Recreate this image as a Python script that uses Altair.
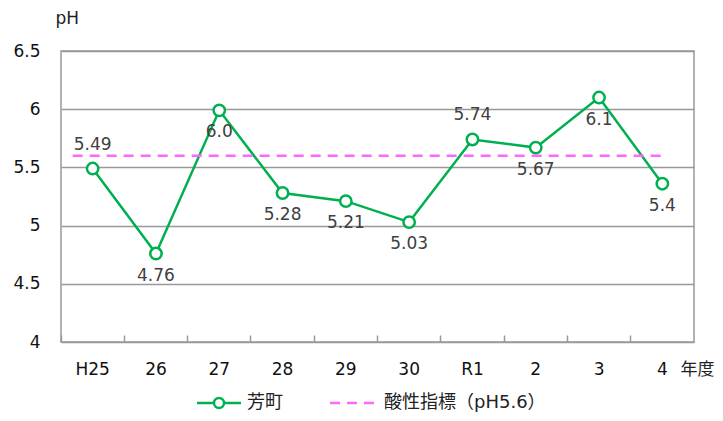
import altair as alt
import pandas as pd

years = ["H25", "26", "27", "28", "29", "30", "R1", "2", "3", "4"]
ph_values = [5.49, 4.76, 5.99, 5.28, 5.21, 5.03, 5.74, 5.67, 6.10, 5.36]
ph_labels = ["5.49", "4.76", "6.0", "5.28", "5.21", "5.03", "5.74", "5.67", "6.1", "5.4"]
labels_above = ["H25", "R1"]
acid_index = 5.6
series_name = "芳町"
ref_name = "酸性指標（pH5.6）"

df = pd.DataFrame({"year": years, "ph": ph_values, "label": ph_labels})
df["above"] = df["year"].isin(labels_above)
ref_df = pd.DataFrame({"start": [years[0]], "end": [years[-1]], "ph": [acid_index]})

FONT = "DejaVu Sans, Noto Sans CJK JP"
GREEN = "#00B050"
MAGENTA = "#FF66FF"
GRID = "#999999"

W, H = 633, 291

x_scale = alt.Scale(domain=years, paddingInner=0, paddingOuter=0)
y_scale = alt.Scale(domain=[4, 6.5], nice=False, zero=False)

x_enc = alt.X(
    "year:N", scale=x_scale, sort=years,
    axis=alt.Axis(
        title="年度", titleFont=FONT, titleFontSize=17, titleFontWeight="normal",
        titleColor="#222222", titleAngle=0, titleAlign="left", titleBaseline="middle",
        titleX=619, titleY=34,
        labelFont=FONT, labelFontSize=17, labelColor="#111111", labelAngle=0,
        labelPadding=19, labelBaseline="top",
        domain=False, offset=-7, tickSize=7, tickColor=GRID, tickWidth=1.5,
        bandPosition=0, grid=False,
    ),
)
y_enc = alt.Y(
    "ph:Q", scale=y_scale,
    axis=alt.Axis(
        values=[4, 4.5, 5, 5.5, 6, 6.5], labelExpr="datum.value",
        title="pH", titleFont=FONT, titleFontSize=17, titleFontWeight="normal",
        titleColor="#222222", titleAngle=0, titleAlign="left", titleBaseline="middle",
        titleX=-6, titleY=-33,
        labelFont=FONT, labelFontSize=17, labelColor="#111111", labelPadding=21,
        ticks=False, domain=False, grid=True, gridColor=GRID, gridWidth=1.5,
    ),
)

ref_rule = alt.Chart(ref_df).mark_rule(
    color=MAGENTA, strokeWidth=2.5, strokeDash=[10, 7], xOffset=-20, x2Offset=2
).encode(
    x=alt.X("start:N", scale=x_scale, sort=years),
    x2="end:N",
    y=alt.Y("ph:Q", scale=y_scale),
)

base = alt.Chart(df)
line = base.mark_line(color=GREEN, strokeWidth=2.5).encode(x=x_enc, y=y_enc)
points = base.mark_point(
    shape="circle", filled=True, fill="white", stroke=GREEN, strokeWidth=2.5, size=130, opacity=1
).encode(x=alt.X("year:N", scale=x_scale, sort=years), y=alt.Y("ph:Q", scale=y_scale))

text_above = base.transform_filter("datum.above").mark_text(
    font=FONT, fontSize=17, color="#404040", dy=-24
).encode(x=alt.X("year:N", scale=x_scale, sort=years), y=alt.Y("ph:Q", scale=y_scale), text="label:N")
text_below = base.transform_filter("!datum.above").mark_text(
    font=FONT, fontSize=17, color="#404040", dy=22
).encode(x=alt.X("year:N", scale=x_scale, sort=years), y=alt.Y("ph:Q", scale=y_scale), text="label:N")

# Manual legend below the plot
leg_y = 352
leg_line = alt.Chart(pd.DataFrame({"n": [series_name]})).mark_rule(color=GREEN, strokeWidth=2.5).encode(
    x=alt.value(136), x2=alt.value(180), y=alt.value(leg_y)
)
leg_pt = alt.Chart(pd.DataFrame({"n": [series_name]})).mark_point(
    shape="circle", filled=True, fill="white", stroke=GREEN, strokeWidth=2.5, size=100, opacity=1
).encode(x=alt.value(158), y=alt.value(leg_y))
leg_txt1 = alt.Chart(pd.DataFrame({"n": [series_name]})).mark_text(
    font=FONT, fontSize=18, color="#222222", align="left", baseline="middle"
).encode(x=alt.value(186), y=alt.value(leg_y), text="n:N")
leg_dash = alt.Chart(pd.DataFrame({"n": [ref_name]})).mark_rule(
    color=MAGENTA, strokeWidth=2.5, strokeDash=[10, 7]
).encode(x=alt.value(269), x2=alt.value(319), y=alt.value(leg_y))
leg_txt2 = alt.Chart(pd.DataFrame({"n": [ref_name]})).mark_text(
    font=FONT, fontSize=18, color="#222222", align="left", baseline="middle"
).encode(x=alt.value(323), y=alt.value(leg_y), text="n:N")

chart = alt.layer(
    line, ref_rule, points, text_above, text_below,
    leg_line, leg_pt, leg_txt1, leg_dash, leg_txt2,
).properties(
    width=W, height=H,
    autosize=alt.AutoSizeParams(type="none"),
    padding={"left": 53, "top": 43, "right": 21, "bottom": 70},
).configure(background="white").configure_view(stroke=GRID, strokeWidth=1.5)

chart.save("out.html", embed_options={"renderer": "svg", "actions": False})
